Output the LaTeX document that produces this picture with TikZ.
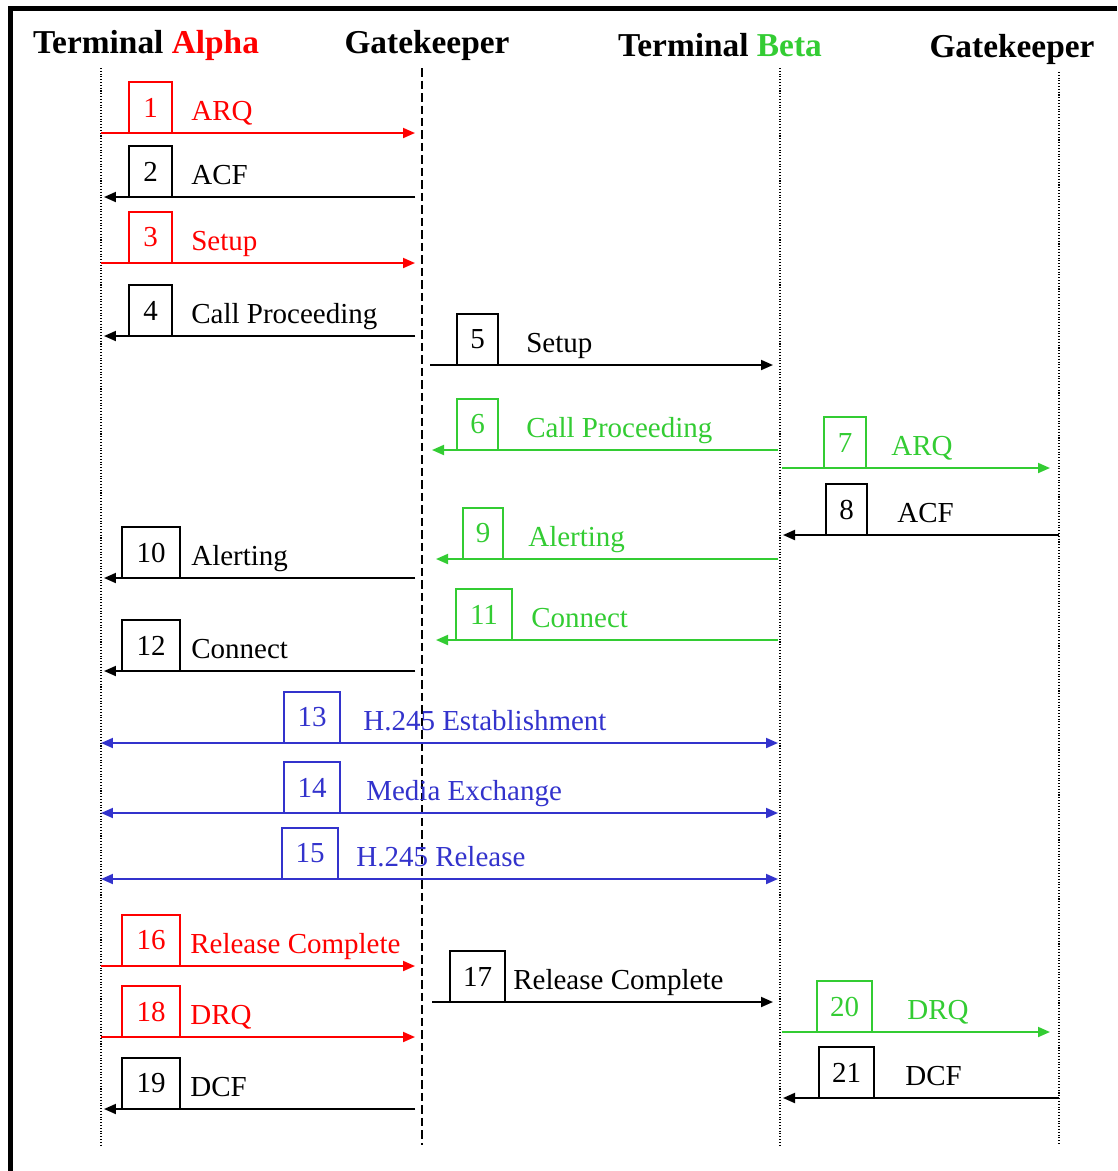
\documentclass[tikz,border=0pt]{standalone}
\usepackage{fontspec}
\setmainfont{Liberation Serif}
\usetikzlibrary{arrows.meta}

\definecolor{tgreen}{RGB}{51,204,51}
\definecolor{tblue}{RGB}{51,51,204}

\tikzset{
  head/.style={font=\fontsize{19}{21}\selectfont\bfseries, inner sep=0pt},
  life/.style={line width=.6pt, densely dotted},
  gklife/.style={line width=.7pt, dash pattern=on .17cm off .08cm},
  msg/.style={line width=1.1pt},
  tipend/.style={-{Triangle[length=.24cm, width=.2cm]}},
  tipboth/.style={{Triangle[length=.24cm, width=.2cm]}-{Triangle[length=.24cm, width=.2cm]}},
  numbox/.style={draw, line width=1pt, inner sep=0pt, outer sep=0pt, anchor=south west,
    minimum height=1.02cm, font=\fontsize{16.5}{18}\selectfont},
  msglabel/.style={anchor=base west, inner sep=0pt, font=\fontsize{16.5}{18}\selectfont}
}

\begin{document}
\begin{tikzpicture}[x=.02cm, y=-.02cm, line cap=butt]
  \useasboundingbox (0,0) rectangle (1117,1171);
  % frame
  \draw[line width=.1cm] (10.5,1171) -- (10.5,8.5) -- (1117,8.5);
  % headers
  \node[head] (hA) at (146,45) {Terminal \textcolor{red}{Alpha}};
  \node[head] (hG1) at (427,45) {Gatekeeper};
  \node[head] (hB) at (720,45) {Terminal \textcolor{tgreen}{Beta}};
  \node[head] (hG2) at (1012,49) {Gatekeeper};
  % lifelines
  \coordinate (aT) at (101,68);  \coordinate (aB) at (101,1145);
  \coordinate (gT) at (422,68);  \coordinate (gB) at (422,1145);
  \coordinate (bT) at (780,68);  \coordinate (bB) at (780,1145);
  \coordinate (hT) at (1059,72); \coordinate (hB2) at (1059,1145);
  \draw[life] (aT) -- (aB);
  \draw[gklife] (gT) -- (gB);
  \draw[life] (bT) -- (bB);
  \draw[life] (hT) -- (hB2);
  % messages: number / y / from / to / box x / box width / label x / colour / tip / text
  \foreach \n/\y/\xa/\xb/\bx/\bw/\lx/\col/\tip/\txt in {
      1/133/101/415/129/43/191/red/tipend/ARQ,
      2/197/415/104/129/43/191/black/tipend/ACF,
      3/263/101/415/129/43/191/red/tipend/Setup,
      4/336/415/104/129/43/191/black/tipend/Call Proceeding,
      5/365/430/773/457/41/526/black/tipend/Setup,
      6/450/778/432/457/41/526/tgreen/tipend/Call Proceeding,
      7/468/782/1050/824/42/891/tgreen/tipend/ARQ,
      8/535/1059/783/826/41/897/black/tipend/ACF,
      9/559/778/436/463/40/528/tgreen/tipend/Alerting,
      10/578/415/104/122/58/191/black/tipend/Alerting,
      11/640/778/436/456/56/531/tgreen/tipend/Connect,
      12/671/415/104/122/58/191/black/tipend/Connect,
      13/743/101/778/284/56/363/tblue/tipboth/H.245 Establishment,
      14/813/101/778/284/56/366/tblue/tipboth/Media Exchange,
      15/879/101/778/282/56/356/tblue/tipboth/H.245 Release,
      16/966/101/415/122/58/190/red/tipend/Release Complete,
      17/1002/432/773/450/55/513/black/tipend/Release Complete,
      18/1037/101/415/122/58/190/red/tipend/DRQ,
      19/1109/415/104/122/58/190/black/tipend/DCF,
      20/1032/782/1050/817/55/907/tgreen/tipend/DRQ,
      21/1098/1059/783/819/55/905/black/tipend/DCF} {
    \coordinate (s\n) at (\xa,\y);
    \coordinate (e\n) at (\xb,\y);
    \node[numbox, draw=\col, text=\col, minimum width={\bw*.02cm}] (b\n) at (\bx,\y) {\n};
    \node[msglabel, text=\col] (l\n) at (\lx,\y-13) {\txt};
    \draw[msg, draw=\col, fill=\col, \tip] (s\n) -- (e\n);
  }
\end{tikzpicture}
\end{document}
